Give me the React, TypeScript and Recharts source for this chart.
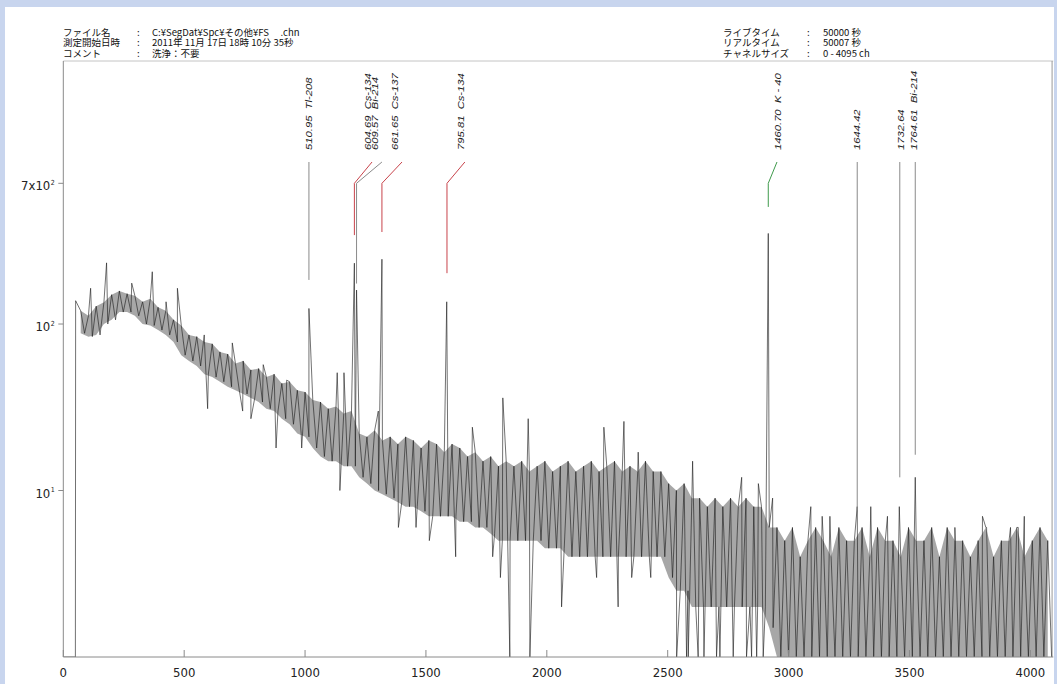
import {
  Area,
  ComposedChart,
  Line,
  ReferenceDot,
  ReferenceLine,
  XAxis,
  YAxis,
} from "recharts";

// channels before the spectrum starts (empty), then the first filled channel
const leadChannels = [0, 50, 51];
const leadCounts = [1, 1, 138];

// noise band read per 32-channel bin, starting at channel 64
const BIN_START = 64;
const BIN_WIDTH = 32;
const bandHigh = [
  120, 112, 128, 135, 150, 158, 152, 148, 136, 142,
  126, 120, 106, 98, 86, 84, 78, 76, 68, 66,
  58, 60, 53, 54, 48, 50, 44, 45, 40, 39,
  35, 34, 31, 32, 29, 30, 22, 21, 23, 20,
  21, 19, 21, 20, 18, 20, 19, 17, 19, 18,
  16, 17, 15, 16, 14, 15, 14, 15, 13, 14,
  15, 13, 14, 15, 13, 14, 15, 13, 14, 15,
  13, 14, 13, 15, 13, 13, 11, 10, 11, 9,
  9, 8, 9, 8, 9, 8, 9, 8, 8, 6,
  6, 5, 6, 4, 5, 6, 5, 4, 6, 5,
  5, 6, 4, 6, 5, 5, 4, 6, 5, 5,
  6, 4, 6, 5, 5, 4, 5, 6, 4, 5,
  5, 6, 4, 5, 6, 5,
];
const bandLow = [
  88, 84, 86, 100, 106, 118, 118, 112, 100, 98,
  92, 86, 78, 65, 60, 56, 50, 48, 45, 42,
  40, 38, 36, 34, 31, 30, 27, 25, 22, 21,
  18, 16, 15, 15, 14, 14, 12, 11, 10, 9.5,
  9, 8.5, 8, 8, 7.5, 7, 7, 7, 7, 6.5,
  6.5, 6, 6, 5.5, 5, 5, 5, 5, 5, 5,
  4.5, 4.5, 4.5, 4, 4, 4, 4, 4, 4, 4,
  4, 4, 4, 4, 4, 4, 3, 2.5, 2.5, 2,
  2, 2, 2, 2, 2, 2, 2, 2, 2, 1.5,
  1, 1, 1, 1, 1, 1, 1, 1, 1, 1,
  1, 1, 1, 1, 1, 1, 1, 1, 1, 1,
  1, 1, 1, 1, 1, 1, 1, 1, 1, 1,
  1, 1, 1, 1, 1, 1,
];

// single channels that stick out of the band (peaks, spikes, empty channels)
const spikeChannels = [
  113, 179, 283, 368, 425, 472, 583, 597, 699, 742, 776, 827, 880, 924, 986,
  1016, 1133, 1144, 1161, 1204, 1213, 1303, 1318, 1386, 1459, 1514, 1586,
  1623, 1692, 1776, 1808, 1818, 1847, 1923, 1930, 2061, 2206, 2236, 2295,
  2319, 2351, 2378, 2430, 2537, 2578, 2585, 2603, 2626, 2650, 2702, 2716,
  2771, 2806, 2826, 2847, 2868, 2875, 2895, 2916, 2934, 3092, 3139, 3171,
  3284, 3340, 3409, 3458, 3524, 3688, 3802, 3819, 3918, 3950, 3975,
];
const spikeCounts = [
  164, 233, 176, 206, 136, 164, 86, 31, 77, 30, 27, 57, 18, 46, 18,
  124, 51, 10, 51, 232, 160, 30, 245, 6, 6, 5, 136,
  4, 24, 4, 3, 36, 1, 27, 1, 2, 3, 24, 2,
  26, 3, 17, 3, 1, 1, 1, 15, 1, 1, 1, 1,
  1, 12, 1, 1, 1, 11, 1, 350, 9, 8, 7, 7,
  8, 8, 7, 8, 12, 6, 7, 6, 6, 6, 7,
];

// identified peaks
const peakEnergies = ["510.95", "604.69", "609.57", "661.65", "795.81", "1460.70", "1644.42", "1732.64", "1764.61"];
const peakNuclides = ["Tl-208", "Cs-134", "Bi-214", "Cs-137", "Cs-134", "K - 40", "", "", "Bi-214"];
const peakChannels = [1016, 1204, 1213, 1318, 1587, 2916, 3284, 3460, 3524];
const markerBottom = [184, 342, 175, 357, 202, 505, 7.6, 12, 16.4];
const markerBend = [0, 700, 700, 700, 700, 700, 0, 0, 0];
const markerBendTo = [0, 1277, 1318, 1401, 1661, 2952, 0, 0, 0];
const labelChannels = [1014, 1257, 1289, 1372, 1641, 2956, 3281, 3463, 3518];
const MARKER_TOP = 940;
const LABEL_BASE = 1110;

const xTicks = [0, 500, 1000, 1500, 2000, 2500, 3000, 3500, 4000];
const yTicks = [10, 100, 700];
const yTickPrefix = ["", "", "7x"];
const yTickExponent = ["1", "2", "2"];

const headerLeftLabels = ["ファイル名", "測定開始日時", "コメント"];
const headerLeftValues = ["C:¥SegDat¥Spc¥その他¥FS　 .chn", "2011年 11月 17日 18時 10分 35秒", "洗浄：不要"];
const headerRightLabels = ["ライブタイム", "リアルタイム", "チャネルサイズ"];
const headerRightValues = ["50000 秒", "50007 秒", "0 - 4095 ch"];

type Row = { ch: number; trace: number; band?: [number, number] };

const rows: Row[] = [];
leadChannels.forEach((c, i) => rows.push({ ch: c, trace: leadCounts[i] }));
bandHigh.forEach((h, i) => {
  const s = BIN_START + i * BIN_WIDTH;
  rows.push({ ch: s + 8, trace: h, band: [bandLow[i], h] });
  rows.push({ ch: s + 24, trace: bandLow[i] });
});
spikeChannels.forEach((c, i) => rows.push({ ch: c, trace: spikeCounts[i] }));
rows.sort((a, b) => a.ch - b.ch);

const TICK_FONT = "'Liberation Sans Narrow', 'DejaVu Sans Condensed', 'Liberation Sans', sans-serif";
const LABEL_FONT = "'Liberation Sans', 'DejaVu Sans', sans-serif";
const JP_FONT = "'Noto Sans CJK JP', sans-serif";

function markerColor(nuclide: string) {
  if (nuclide.startsWith("Cs")) return "#c8434b";
  if (nuclide.startsWith("K")) return "#3f9a4c";
  return "#8a8a8a";
}

function XTick({ x, y, payload }: any) {
  return (
    <g>
      <line x1={x} x2={x} y1={y} y2={y - 7} stroke="#8a8a8a" />
      <text x={x} y={y + 20} textAnchor="middle" fontSize={13} fontFamily={TICK_FONT} fill="#222">
        {payload.value}
      </text>
    </g>
  );
}

function YTick({ x, y, payload }: any) {
  const i = yTicks.indexOf(payload.value);
  return (
    <g fontFamily={TICK_FONT} fill="#222">
      <line x1={x} x2={x - 5} y1={y} y2={y} stroke="#8a8a8a" />
      <text x={x - 13} y={y + 7} textAnchor="end" fontSize={13}>
        {yTickPrefix[i]}10
      </text>
      <text x={x - 12.5} y={y + 1.5} textAnchor="start" fontSize={7}>
        {yTickExponent[i]}
      </text>
    </g>
  );
}

function PeakLabel({ cx, cy, energy, nuclide }: any) {
  return (
    <g transform={`translate(${cx + 3.5},${cy}) rotate(-90) scale(1.25,1)`}>
      <text x={0} y={0} fontSize={9} fontStyle="italic" fontFamily={LABEL_FONT} fill="#222">
        {energy}
        {nuclide ? <tspan dx={5}>{nuclide}</tspan> : null}
      </text>
    </g>
  );
}

function Header() {
  const rowY = [36, 46.3, 56.6];
  return (
    <svg width={1057} height={70} style={{ position: "absolute", left: 0, top: 0 }}>
      {rowY.map((y, i) => (
        <g key={i} fontFamily={JP_FONT} fontSize={9.5} fill="#111">
          <text x={63} y={y}>{headerLeftLabels[i]}</text>
          <text x={137} y={y}>:</text>
          <text x={152} y={y}>{headerLeftValues[i]}</text>
          <text x={723} y={y}>{headerRightLabels[i]}</text>
          <text x={807} y={y}>:</text>
          <text x={823} y={y}>{headerRightValues[i]}</text>
        </g>
      ))}
    </svg>
  );
}

export default function App() {
  const markers: any[] = [];
  peakChannels.forEach((c, i) => {
    const color = markerColor(peakNuclides[i]);
    if (markerBend[i]) {
      markers.push(
        <ReferenceLine
          key={`v${i}`}
          segment={[{ x: c, y: markerBend[i] }, { x: c, y: markerBottom[i] }]}
          stroke={color}
          strokeWidth={1}
        />,
        <ReferenceLine
          key={`d${i}`}
          segment={[{ x: c, y: markerBend[i] }, { x: markerBendTo[i], y: MARKER_TOP }]}
          stroke={color}
          strokeWidth={1}
        />,
      );
    } else {
      markers.push(
        <ReferenceLine
          key={`v${i}`}
          segment={[{ x: c, y: MARKER_TOP }, { x: c, y: markerBottom[i] }]}
          stroke={color}
          strokeWidth={1}
        />,
      );
    }
    markers.push(
      <ReferenceDot
        key={`l${i}`}
        x={labelChannels[i]}
        y={LABEL_BASE}
        shape={(p: any) => <PeakLabel {...p} energy={peakEnergies[i]} nuclide={peakNuclides[i]} />}
      />,
    );
  });

  return (
    <div style={{ position: "relative", width: 1057, height: 684, background: "#c8d5ee", overflow: "hidden" }}>
      <style>{"body{margin:0}"}</style>
      <div style={{ position: "absolute", left: 5, top: 7, width: 1049, height: 677, background: "#fff" }} />
      <Header />
      <div style={{ position: "absolute", left: 0, top: 0 }}>
        <ComposedChart
          width={1057}
          height={684}
          data={rows}
          margin={{ top: 61, right: 3.7, bottom: 0, left: 3.3 }}
        >
          <XAxis
            dataKey="ch"
            type="number"
            domain={[0, 4095]}
            ticks={xTicks}
            interval={0}
            height={27}
            allowDataOverflow
            axisLine={{ stroke: "#8a8a8a" }}
            tickLine={false}
            tickSize={0}
            tickMargin={0}
            tick={<XTick />}
          />
          <YAxis
            type="number"
            scale="log"
            domain={[1, 3800]}
            ticks={yTicks}
            interval={0}
            width={60}
            allowDataOverflow
            axisLine={{ stroke: "#8a8a8a" }}
            tickLine={false}
            tickSize={0}
            tickMargin={0}
            tick={<YTick />}
          />
          <ReferenceLine y={3800} stroke="#c4c4c4" />
          <ReferenceLine x={4090} stroke="#9a9a9a" />
          <Area
            dataKey="band"
            type="linear"
            stroke="none"
            fill="#505050"
            fillOpacity={0.5}
            connectNulls
            dot={false}
            activeDot={false}
            isAnimationActive={false}
          />
          <Line
            dataKey="trace"
            type="linear"
            stroke="#1e1e1e"
            strokeWidth={0.7}
            strokeOpacity={0.9}
            dot={false}
            activeDot={false}
            isAnimationActive={false}
          />
          {markers}
        </ComposedChart>
      </div>
    </div>
  );
}
